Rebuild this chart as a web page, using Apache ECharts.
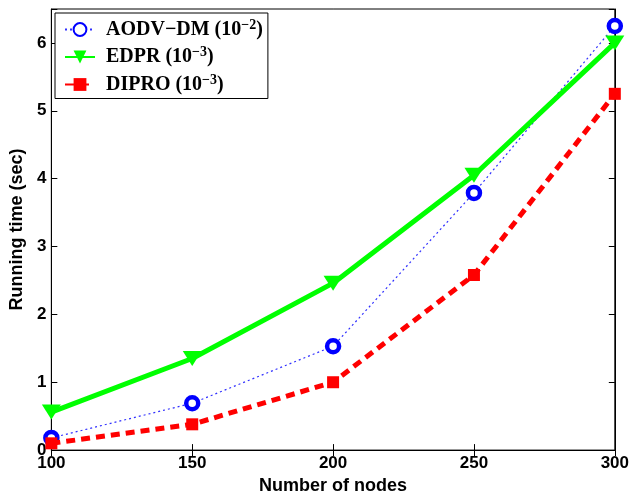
<!DOCTYPE html>
<html>
<head>
<meta charset="utf-8">
<script src="https://cdn.jsdelivr.net/npm/echarts@6/dist/echarts.min.js"></script>
<style>html,body{margin:0;padding:0;background:#fff;}#c{width:632px;height:500px;}</style>
</head>
<body>
<div id="c"></div>
<script>
var nodes = [100, 150, 200, 250, 300];
var aodvDM = [0.18, 0.69, 1.53, 3.79, 6.25];
var edpr = [0.56, 1.35, 2.46, 4.05, 6.0];
var dipro = [0.10, 0.38, 1.00, 2.58, 5.25];
var seriesNames = ['AODV\u2212DM', 'EDPR', 'DIPRO'];
var seriesExp = ['\u22122', '\u22123', '\u22123'];
var xTitle = 'Number of nodes';
var yTitle = 'Running time (sec)';

function pairs(ys) { return nodes.map(function (x, i) { return [x, ys[i]]; }); }

var chart = echarts.init(document.getElementById('c'));
var sansBold = { fontFamily: 'Liberation Sans', fontWeight: 'bold', color: '#000' };
var axisCommon = {
  axisLine: { show: true, lineStyle: { color: '#000', width: 1 } },
  axisTick: { show: true, inside: true, length: 6, lineStyle: { color: '#000' } },
  splitLine: { show: false }
};
var serifB = { fontFamily: 'Liberation Serif', fontWeight: 'bold', color: '#000' };
chart.setOption({
  animation: false,
  backgroundColor: '#fff',
  grid: { left: 48, right: 16, top: 9, bottom: 45, show: true, borderColor: '#000', borderWidth: 1 },
  legend: {
    orient: 'vertical', left: 55, top: 13,
    backgroundColor: '#fff', borderColor: '#000', borderWidth: 1,
    padding: [5, 5, 4, 9],
    itemWidth: 30, itemHeight: 16, itemGap: 6,
    data: seriesNames,
    formatter: function (name) {
      var i = seriesNames.indexOf(name);
      return '{f|' + name + ' (10}{s|' + seriesExp[i] + '}{b|)}';
    },
    textStyle: Object.assign({
      fontSize: 20,
      rich: {
        f: Object.assign({ fontSize: 20, lineHeight: 23, padding: [0, 0, 0, 6] }, serifB),
        b: Object.assign({ fontSize: 20, lineHeight: 23 }, serifB),
        s: Object.assign({ fontSize: 14, lineHeight: 12, verticalAlign: 'top' }, serifB)
      }
    }, serifB)
  },
  xAxis: [
    Object.assign({
      type: 'value', min: 100, max: 300, interval: 50, position: 'bottom',
      name: xTitle, nameLocation: 'middle', nameGap: 24,
      nameTextStyle: Object.assign({ fontSize: 18 }, sansBold),
      axisLabel: Object.assign({ fontSize: 17, margin: 5 }, sansBold)
    }, axisCommon),
    Object.assign({
      type: 'value', min: 100, max: 300, interval: 50, position: 'top',
      axisLabel: { show: false }
    }, axisCommon)
  ],
  yAxis: [
    Object.assign({
      type: 'value', min: 0, max: 6.5, interval: 1, position: 'left',
      name: yTitle, nameLocation: 'middle', nameGap: 21,
      nameTextStyle: Object.assign({ fontSize: 18 }, sansBold),
      axisLabel: Object.assign({ fontSize: 17, margin: 5,
        formatter: function (v) { return Math.abs(v - Math.round(v)) < 1e-9 ? String(v) : ''; } }, sansBold)
    }, axisCommon),
    Object.assign({
      type: 'value', min: 0, max: 6.5, interval: 1, position: 'right',
      axisLabel: { show: false }
    }, axisCommon)
  ],
  series: [
    {
      name: seriesNames[0], type: 'line', data: pairs(aodvDM), z: 2,
      symbol: 'circle', symbolSize: 12,
      itemStyle: { color: '#ffffff', borderColor: '#0000ff', borderWidth: 4.5 },
      lineStyle: { color: '#3030ff', width: 1.2, type: [2, 3] }
    },
    {
      name: seriesNames[1], type: 'line', data: pairs(edpr), z: 3,
      symbol: 'triangle', symbolRotate: 180, symbolSize: [19, 15],
      itemStyle: { color: '#00ff00' },
      lineStyle: { color: '#00ff00', width: 5, type: 'solid' }
    },
    {
      name: seriesNames[2], type: 'line', data: pairs(dipro), z: 4,
      symbol: 'rect', symbolSize: 12,
      itemStyle: { color: '#ff0000' },
      lineStyle: { color: '#ff0000', width: 5, type: [9, 6] }
    }
  ]
});
</script>
</body>
</html>
